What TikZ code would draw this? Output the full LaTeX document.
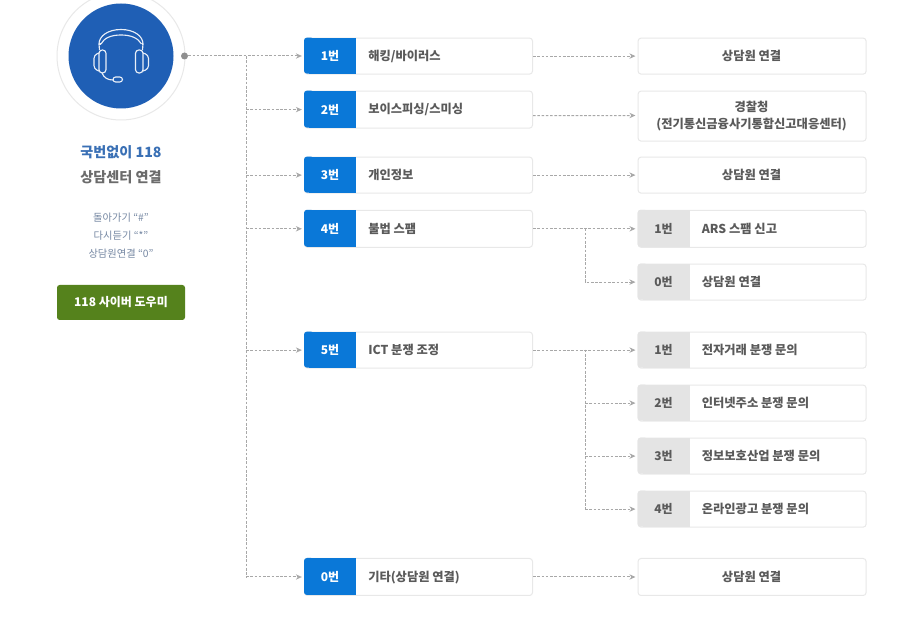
\documentclass[tikz,border=0pt]{standalone}
\usepackage{fontspec}
\setmainfont{Noto Sans CJK KR}
\usetikzlibrary{arrows.meta}
\definecolor{tabblue}{HTML}{0A78D8}
\definecolor{tabgray}{HTML}{E4E4E4}
\definecolor{boxline}{HTML}{E8E8E8}
\definecolor{circblue}{HTML}{1F5FB5}
\definecolor{btngreen}{HTML}{55821C}
\definecolor{txtgray}{HTML}{5A5A5A}
\definecolor{linkgray}{HTML}{A8A8A8}
\definecolor{titleblue}{HTML}{3A70B5}
\definecolor{subblue}{HTML}{7688A3}
\tikzset{
  x=0.75pt,y=-0.75pt,
  cardbox/.style={draw=boxline,line width=0.75pt,fill=white,rounded corners=2.2pt,minimum width=171pt,inner sep=0pt,anchor=north west},
  tabtxt/.style={font=\fontsize{9}{11}\selectfont\bfseries,inner sep=0pt,yshift=-0.5pt},
  cardtxt/.style={font=\fontsize{9.2}{12.4}\selectfont\bfseries,text=txtgray,inner sep=0pt,align=center,yshift=-0.5pt},
  link/.style={draw=linkgray,line width=0.75pt,dash pattern=on 2pt off 1.2pt},
  linka/.style={link,-{Stealth[length=4.5pt,width=4pt,color=linkgray]},shorten >=1.6pt},
  icon/.style={draw=white!90!circblue,line width=0.85pt,line join=round},
}
% #1 name, #2 left x, #3 top y, #4 height px, #5 tab fill, #6 tab text colour, #7 tab text, #8 text
\newcommand{\tabcard}[8]{%
  \node[cardbox,minimum height=#4*0.75pt] (#1) at (#2,#3) {};
  \fill[#5,rounded corners=2.2pt] (#2,#3) rectangle (#2+10,#3+#4);
  \fill[#5] (#2+5,#3) rectangle (#2+52,#3+#4);
  \node[tabtxt,text=#6] (#1tab) at (#2+26,#3+#4/2) {#7};
  \node[cardtxt,anchor=west] (#1txt) at (#2+64,#3+#4/2) {#8};
}
% #1 name, #2 top y, #3 height px, #4 text (centred card in the right column)
\newcommand{\plaincard}[4]{%
  \node[cardbox,minimum height=#3*0.75pt] (#1) at (637.6,#2) {};
  \node[cardtxt] (#1txt) at (751.6,#2+#3/2) {#4};
}
\begin{document}
\begin{tikzpicture}
\useasboundingbox (0,0) rectangle (904,634);
\fill[white] (0,0) rectangle (904,634);

% --- headset disc
\node[circle,draw=black!9,line width=0.75pt,fill=white,minimum size=128*0.75pt,inner sep=0pt] (ring) at (121,56) {};
\node[circle,fill=circblue,minimum size=105*0.75pt,inner sep=0pt] (disc) at (121,56) {};
% ear cups and pads
\draw[icon,rounded corners=2.5pt] (99,50) rectangle (106,73);
\draw[icon,rounded corners=2.5pt] (135.5,50) rectangle (143,73);
\draw[icon,rounded corners=2.5pt] (99,53) -- (94,55) -- (94,69) -- (99,71);
\draw[icon,rounded corners=2.5pt] (143,53) -- (148.5,55) -- (148.5,69) -- (143,71);
% head band
\draw[icon] (99.5,50) -- (99,44) .. controls (99,36) and (108,29.5) .. (121,29.5) .. controls (134,29.5) and (143,36) .. (143,44) -- (142.5,50);
\draw[icon] (101,44) .. controls (104,38) and (111,35) .. (121,35) .. controls (131,35) and (138,38) .. (141.5,44);
\draw[icon] (99,44) -- (101,44) (143,44) -- (141.5,44);
% microphone
\draw[icon] (102,73) .. controls (104,78) and (108,80) .. (113,80);
\draw[icon,rounded corners=2pt] (113,77) rectangle (122.5,82);

% --- left column
\node[font=\fontsize{10.6}{13}\selectfont\bfseries,text=titleblue,inner sep=0pt] (title) at (121,152) {국번없이 118};
\node[font=\fontsize{10.6}{13}\selectfont\bfseries,text=txtgray!90,inner sep=0pt] (title2) at (121,177) {상담센터 연결};
\node[font=\fontsize{7.7}{13.5}\selectfont,text=subblue,inner sep=0pt,align=center] (keys) at (121,235.5) {돌아가기 “\#”\\다시듣기 “*”\\상담원연결 “0”};
\node[fill=btngreen,rounded corners=2pt,minimum width=128*0.75pt,minimum height=35*0.75pt,inner sep=0pt,text=white,font=\fontsize{9}{11}\selectfont\bfseries] (help) at (121,302.5) {118 사이버 도우미};

% --- middle column
\tabcard{m1}{304}{37.6}{36}{tabblue}{white}{1번}{해킹/바이러스}
\tabcard{m2}{304}{90.6}{37}{tabblue}{white}{2번}{보이스피싱/스미싱}
\tabcard{m3}{304}{156.6}{36}{tabblue}{white}{3번}{개인정보}
\tabcard{m4}{304}{209.8}{37}{tabblue}{white}{4번}{불법 스팸}
\tabcard{m5}{304}{331.6}{36}{tabblue}{white}{5번}{ICT 분쟁 조정}
\tabcard{m0}{304}{558}{37}{tabblue}{white}{0번}{기타(상담원 연결)}

% --- right column
\plaincard{r1}{37.6}{36}{상담원 연결}
\plaincard{r2}{90.6}{50}{경찰청\\(전기통신금융사기통합신고대응센터)}
\plaincard{r3}{156.6}{36}{상담원 연결}
\tabcard{r41}{637.6}{209.8}{37}{tabgray}{txtgray}{1번}{ARS 스팸 신고}
\tabcard{r40}{637.6}{263.6}{36}{tabgray}{txtgray}{0번}{상담원 연결}
\tabcard{r51}{637.6}{331.6}{36}{tabgray}{txtgray}{1번}{전자거래 분쟁 문의}
\tabcard{r52}{637.6}{384.6}{36}{tabgray}{txtgray}{2번}{인터넷주소 분쟁 문의}
\tabcard{r53}{637.6}{437.6}{36}{tabgray}{txtgray}{3번}{정보보호산업 분쟁 문의}
\tabcard{r54}{637.6}{490.6}{36}{tabgray}{txtgray}{4번}{온라인광고 분쟁 문의}
\plaincard{r0}{558}{37}{상담원 연결}

% --- connectors
\node[circle,fill=linkgray!85!black,minimum size=7*0.75pt,inner sep=0pt] (dot) at (184.5,56) {};
\coordinate (trunk) at (246,56);
\coordinate (bus4) at (585,228.3);
\coordinate (bus5) at (585,349.6);
\draw[linka] (dot) -- (dot -| m1.west);
\draw[link] (trunk) -- (trunk |- m0.west);
\foreach \n in {m2,m3,m4,m5,m0} \draw[linka] (trunk |- \n.west) -- (\n.west);
\draw[linka] (m1.east) -- (r1.west);
\draw[linka] (m2.east) ++(0,6) -- (r2.west |- 0,115.5);
\draw[linka] (m3.east) -- (r3.west);
\draw[linka] (m4.east) -- (r41.west);
\draw[linka] (m5.east) -- (r51.west);
\draw[linka] (m0.east) -- (r0.west);
\draw[linka] (bus4) |- (r40.west);
\foreach \n in {r52,r53} \draw[linka] (bus5 |- \n.west) -- (\n.west);
\draw[link] (bus5) -- (bus5 |- r54.west);
\draw[linka] (bus5 |- r54.west) -- (r54.west);
\end{tikzpicture}
\end{document}
